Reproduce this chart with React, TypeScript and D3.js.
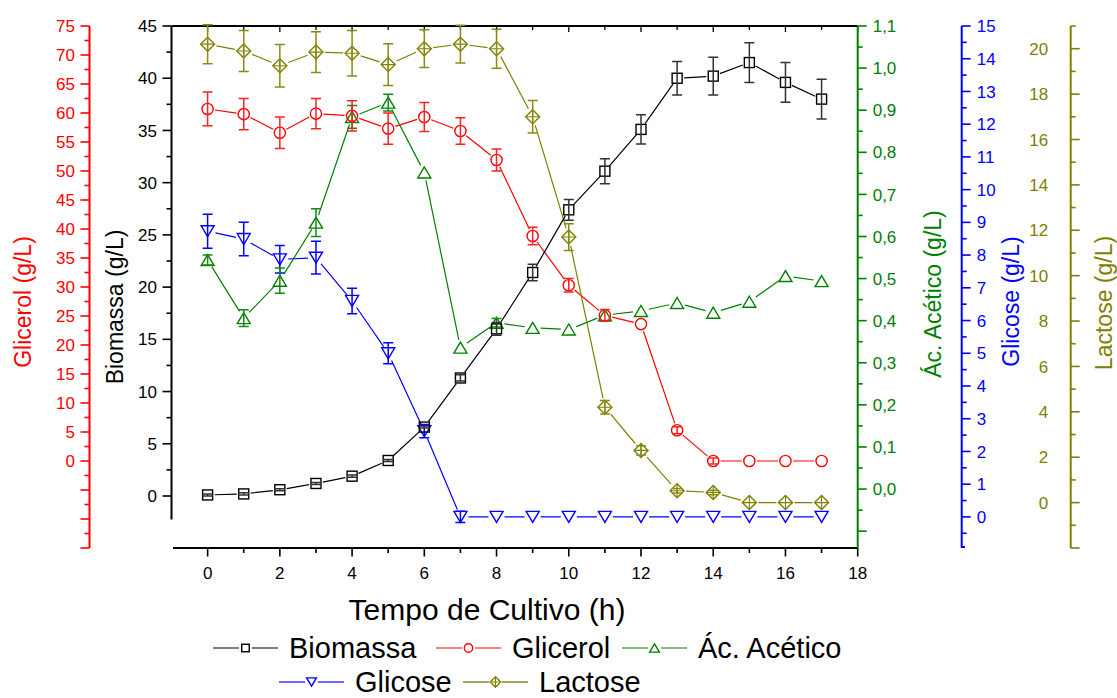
import React from "react";
import * as d3 from "d3";

// ---------- data ----------
const times = [0, 1, 2, 3, 4, 5, 6, 7, 8, 9, 10, 11, 12, 13, 14, 15, 16, 17];
const biomassa = [0.1, 0.2, 0.6, 1.2, 1.9, 3.4, 6.6, 11.3, 16.0, 21.4, 27.4, 31.1, 35.1, 40.0, 40.2, 41.5, 39.6, 38.0];
const biomassaErr = [0.1, 0.1, 0.1, 0.1, 0.1, 0.1, 0.1, 0.3, 0.6, 0.8, 1.0, 1.2, 1.4, 1.6, 1.8, 1.9, 1.9, 1.9];
const glicerol = [60.7, 59.8, 56.6, 59.9, 59.5, 57.3, 59.3, 56.9, 51.9, 38.8, 30.3, 25.1, 23.6, 5.3, 0, 0, 0, 0];
const glicerolErr = [2.9, 2.7, 2.7, 2.6, 2.6, 2.7, 2.5, 2.3, 1.9, 1.5, 1.15, 1.0, 0, 0.6, 0.5, 0, 0, 0];
const acetico = [0.544, 0.406, 0.495, 0.633, 0.884, 0.918, 0.752, 0.336, 0.395, 0.383, 0.379, 0.413, 0.423, 0.442, 0.419, 0.445, 0.506, 0.494];
const aceticoErr = [0.012, 0.02, 0.03, 0.033, 0.027, 0.02, 0, 0, 0.01, 0, 0, 0, 0, 0, 0, 0, 0, 0];
const glicose = [8.73, 8.49, 7.87, 7.92, 6.6, 5.0, 2.62, 0, 0, 0, 0, 0, 0, 0, 0, 0, 0, 0];
const glicoseErr = [0.52, 0.51, 0.42, 0.5, 0.39, 0.32, 0.2, 0.17, 0, 0, 0, 0, 0, 0, 0, 0, 0, 0];
const lactose = [20.2, 19.9, 19.25, 19.85, 19.8, 19.3, 20.0, 20.2, 20.0, 17.0, 11.7, 4.2, 2.3, 0.52, 0.45, 0, 0, 0];
const lactoseErr = [0.86, 0.9, 0.94, 0.9, 1.0, 0.92, 0.83, 0.83, 0.86, 0.72, 0.59, 0.3, 0.2, 0.1, 0.1, 0, 0, 0];

// tick labels
const xTicks = [0, 2, 4, 6, 8, 10, 12, 14, 16, 18];
const bioTicks = [0, 5, 10, 15, 20, 25, 30, 35, 40, 45];
const glicerolTicks = [0, 5, 10, 15, 20, 25, 30, 35, 40, 45, 50, 55, 60, 65, 70, 75];
const aceticoTicks = [0, 0.1, 0.2, 0.3, 0.4, 0.5, 0.6, 0.7, 0.8, 0.9, 1.0, 1.1];
const glicoseTicks = [0, 1, 2, 3, 4, 5, 6, 7, 8, 9, 10, 11, 12, 13, 14, 15];
const lactoseTicks = [0, 2, 4, 6, 8, 10, 12, 14, 16, 18, 20];

const FONT = "'Liberation Sans', Arial, Helvetica, sans-serif";
const W = 1117;
const H = 698;

const x = d3.scaleLinear().domain([-1, 18]).range([171.5, 857.7]);
const yBio = d3.scaleLinear().domain([-2.25, 45]).range([519.5, 26]);
const yRed = d3.scaleLinear().domain([-15, 75]).range([548, 26]);
const yGreen = d3.scaleLinear().domain([-0.14, 1.1]).range([548, 26]);
const yBlue = d3.scaleLinear().domain([-0.95, 15]).range([548, 26]);
const yOlive = d3.scaleLinear().domain([-2, 21]).range([548, 26]);

type Shape = "square" | "circle" | "up" | "down" | "diamond";

function Marker({ shape, cx, cy, color, s = 1 }: { shape: Shape; cx: number; cy: number; color: string; s?: number }) {
  const common = { fill: "none", stroke: color, strokeWidth: 1.4 };
  if (shape === "square") {
    const h = 5 * s;
    return <rect x={cx - h} y={cy - h} width={2 * h} height={2 * h} {...common} />;
  }
  if (shape === "circle") return <circle cx={cx} cy={cy} r={5.6 * s} {...common} />;
  if (shape === "up") {
    const w = 6.5 * s, h = 5.5 * s;
    return <path d={`M${cx},${cy - h}L${cx + w},${cy + h}L${cx - w},${cy + h}Z`} {...common} />;
  }
  if (shape === "down") {
    const w = 6.5 * s, h = 5.5 * s;
    return <path d={`M${cx},${cy + h}L${cx + w},${cy - h}L${cx - w},${cy - h}Z`} {...common} />;
  }
  const d = 7 * s;
  return (
    <g>
      <path d={`M${cx},${cy - d}L${cx + d},${cy}L${cx},${cy + d}L${cx - d},${cy}Z`} {...common} />
      <path d={`M${cx},${cy - d}V${cy + d}M${cx - d},${cy}H${cx + d}`} {...common} strokeWidth={1.1} />
    </g>
  );
}

const gapOf: Record<Shape, number> = { square: 7, circle: 7.5, up: 8, down: 8, diamond: 9 };

function Series({ vals, errs, y, color, errColor, shape }: { vals: number[]; errs: number[]; y: d3.ScaleLinear<number, number>; color: string; errColor: string; shape: Shape }) {
  const pts = times.map((t, i) => [x(t), y(vals[i])] as [number, number]);
  const gap = gapOf[shape];
  const segs: string[] = [];
  for (let i = 0; i < pts.length - 1; i++) {
    const [x0, y0] = pts[i];
    const [x1, y1] = pts[i + 1];
    const dx = x1 - x0, dy = y1 - y0;
    const L = Math.hypot(dx, dy);
    if (L <= 2 * gap) continue;
    const ux = dx / L, uy = dy / L;
    segs.push(`M${x0 + ux * gap},${y0 + uy * gap}L${x1 - ux * gap},${y1 - uy * gap}`);
  }
  return (
    <g>
      <path d={segs.join("")} fill="none" stroke={color} strokeWidth={1.2} />
      {pts.map(([px, py], i) => (
        <Marker key={"m" + i} shape={shape} cx={px} cy={py} color={color} />
      ))}
      {pts.map(([px], i) => {
        const e = errs[i];
        if (!e) return null;
        const top = y(vals[i] + e), bot = y(vals[i] - e);
        return (
          <path
            key={"e" + i}
            d={`M${px},${top}V${bot}M${px - 5},${top}H${px + 5}M${px - 5},${bot}H${px + 5}`}
            fill="none"
            stroke={errColor}
            strokeWidth={1.5}
          />
        );
      })}
    </g>
  );
}

function VAxis({ ax, y, color, majors, minors, labels, fmt, side, labelSide, y0, y1 }: any) {
  const dir = side === "left" ? -1 : 1;
  return (
    <g>
      <line x1={ax} x2={ax} y1={y0} y2={y1} stroke={color} strokeWidth={2} />
      {majors.map((v: number) => (
        <line key={"M" + v} x1={ax} x2={ax + dir * 9} y1={y(v)} y2={y(v)} stroke={color} strokeWidth={1.6} />
      ))}
      {minors.map((v: number) => (
        <line key={"m" + v} x1={ax} x2={ax + dir * 5} y1={y(v)} y2={y(v)} stroke={color} strokeWidth={1.6} />
      ))}
      {labels.map((v: number) => (
        <text
          key={"l" + v}
          x={labelSide === "left" ? ax - (side === "left" ? 14.5 : 22.5) : ax + 15}
          y={y(v)}
          dy="0.36em"
          textAnchor={labelSide === "left" ? "end" : "start"}
          fill={color}
          fontSize={17}
          fontFamily={FONT}
        >
          {fmt(v)}
        </text>
      ))}
    </g>
  );
}

function RotLabel({ cx, cy, text, color }: { cx: number; cy: number; text: string; color: string }) {
  return (
    <text
      transform={`translate(${cx},${cy}) rotate(-90)`}
      textAnchor="middle"
      dy="0.36em"
      fill={color}
      fontSize={23}
      fontFamily={FONT}
    >
      {text}
    </text>
  );
}

const comma = (v: number) => d3.format(".1f")(v).replace(".", ",");
const plain = (v: number) => String(v);

function LegendItem({ x0, yy, color, lineColor, lineW, shape, label }: any) {
  return (
    <g>
      <line x1={x0} x2={x0 + 65} y1={yy} y2={yy} stroke={lineColor} strokeWidth={lineW} />
      <rect x={x0 + 26} y={yy - 6} width={13} height={12} fill="white" />
      <Marker shape={shape} cx={x0 + 32.5} cy={yy} color={color} s={0.75} />
      <text x={x0 + 76} y={yy} dy="0.36em" fontSize={29} fontFamily={FONT} fill="#000">
        {label}
      </text>
    </g>
  );
}

export default function App() {
  const xMinor = d3.range(1, 18, 2);
  const allInts = d3.range(0, 19);
  return (
    <svg width={W} height={H} style={{ position: "absolute", left: 0, top: 0, background: "#fff" }}>
      <rect x={0} y={0} width={W} height={H} fill="#fff" />

      {/* frame top */}
      <line x1={171.5} x2={857.7} y1={26} y2={26} stroke="#000" strokeWidth={2} />
      {allInts.map((v) => (
        <line key={"tt" + v} x1={x(v)} x2={x(v)} y1={26} y2={v % 2 === 0 ? 32 : 30} stroke="#000" strokeWidth={1.3} />
      ))}
      {/* bottom x axis */}
      <line x1={173} x2={857.7} y1={548} y2={548} stroke="#000" strokeWidth={2} />
      {xTicks.map((v) => (
        <g key={"xt" + v}>
          <line x1={x(v)} x2={x(v)} y1={548} y2={556.5} stroke="#000" strokeWidth={1.6} />
          <text x={x(v)} y={579} textAnchor="middle" fontSize={17} fontFamily={FONT} fill="#000">
            {v}
          </text>
        </g>
      ))}
      {xMinor.map((v) => (
        <line key={"xm" + v} x1={x(v)} x2={x(v)} y1={548} y2={553} stroke="#000" strokeWidth={1.6} />
      ))}
      <text x={487} y={620} textAnchor="middle" fontSize={30} fontFamily={FONT} fill="#000">
        Tempo de Cultivo (h)
      </text>

      {/* left axes */}
      <VAxis ax={89.5} y={yRed} color="#ff0000" side="left" labelSide="left" y0={26} y1={548}
        majors={d3.range(-15, 76, 5)} minors={d3.range(-12.5, 75, 5)} labels={glicerolTicks} fmt={plain} />
      <VAxis ax={171.5} y={yBio} color="#000" side="left" labelSide="left" y0={26} y1={519.5}
        majors={d3.range(0, 46, 5)} minors={d3.range(2.5, 45, 5)} labels={bioTicks} fmt={plain} />
      <RotLabel cx={23} cy={302} text="Glicerol (g/L)" color="#ff0000" />
      <RotLabel cx={115} cy={307} text="Biomassa (g/L)" color="#000" />

      {/* right axes */}
      <VAxis ax={857.7} y={yGreen} color="#008000" side="right" labelSide="right" y0={26} y1={548}
        majors={d3.range(-0.1, 1.101, 0.1)} minors={d3.range(-0.05, 1.1, 0.1)} labels={aceticoTicks} fmt={comma} />
      <VAxis ax={961.7} y={yBlue} color="#0000ff" side="right" labelSide="right" y0={26} y1={548}
        majors={d3.range(0, 16, 1)} minors={d3.range(-0.5, 15, 1)} labels={glicoseTicks} fmt={plain} />
      <line x1={961.7} x2={965} y1={547} y2={547} stroke="#0000ff" strokeWidth={2} />
      <VAxis ax={1070.7} y={yOlive} color="#808000" side="right" labelSide="left" y0={26} y1={548}
        majors={d3.range(-2, 21, 2)} minors={d3.range(-1, 22, 2)} labels={lactoseTicks} fmt={plain} />
      <RotLabel cx={932.5} cy={294} text="Ác. Acético (g/L)" color="#008000" />
      <RotLabel cx={1011} cy={301.5} text="Glicose (g/L)" color="#0000ff" />
      <RotLabel cx={1104} cy={303} text="Lactose (g/L)" color="#808000" />

      {/* series */}
      <Series vals={glicose} errs={glicoseErr} y={yBlue} color="#0000ff" errColor="#0000ff" shape="down" />
      <Series vals={acetico} errs={aceticoErr} y={yGreen} color="#008000" errColor="#138a13" shape="up" />
      <Series vals={glicerol} errs={glicerolErr} y={yRed} color="#ff0000" errColor="#ff2020" shape="circle" />
      <Series vals={lactose} errs={lactoseErr} y={yOlive} color="#808000" errColor="#8a8a10" shape="diamond" />
      <Series vals={biomassa} errs={biomassaErr} y={yBio} color="#000000" errColor="#333333" shape="square" />

      {/* legend */}
      <LegendItem x0={213} yy={648} color="#000" lineColor="#000" lineW={1.2} shape="square" label="Biomassa" />
      <LegendItem x0={436} yy={648} color="#ff0000" lineColor="#ff0000" lineW={1.2} shape="circle" label="Glicerol" />
      <LegendItem x0={622} yy={648} color="#008000" lineColor="#008000" lineW={1.2} shape="up" label="Ác. Acético" />
      <LegendItem x0={279} yy={682} color="#0000ff" lineColor="#6b6bff" lineW={2} shape="down" label="Glicose" />
      <LegendItem x0={463} yy={682} color="#808000" lineColor="#a3a35c" lineW={2} shape="diamond" label="Lactose" />
    </svg>
  );
}
